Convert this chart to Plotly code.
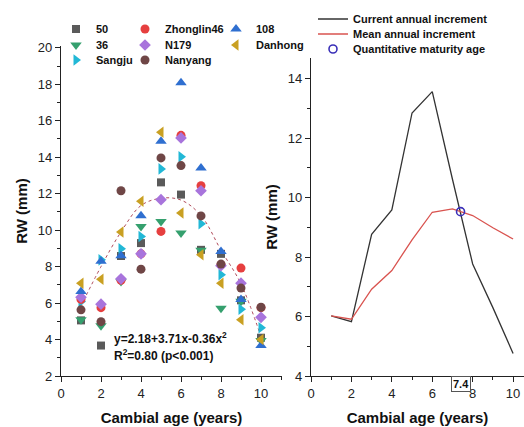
import plotly.graph_objects as go

W, H = 524, 427

# ---------------- data (left panel) ----------------
ages = [1, 2, 3, 4, 5, 6, 7, 8, 9, 10]
rw_50 = [5.05, 3.67, 8.58, 9.29, 12.62, 11.95, 8.92, 8.70, 6.15, 4.10]
rw_36 = [5.08, 4.76, 7.18, 10.20, 10.48, 9.84, 8.90, 5.72, 6.10, 3.95]
rw_sangju = [6.08, 8.37, 8.98, 9.65, 13.36, 14.02, 10.35, 7.55, 5.66, 4.65]
rw_zhonglin46 = [6.20, 5.75, 7.25, 8.70, 9.93, 15.20, 12.44, 8.10, 7.92, 5.75]
rw_n179 = [6.32, 5.94, 7.33, 8.70, 11.67, 15.06, 12.16, 8.05, 7.09, 5.22]
rw_nanyang = [5.63, 4.98, 12.16, 7.86, 13.96, 13.54, 10.78, 8.14, 6.82, 5.77]
rw_108 = [6.63, 8.30, 8.59, 10.79, 14.87, 18.08, 13.41, 8.83, 6.20, 3.67]
rw_danhong = [7.09, 7.31, 9.90, 11.58, 15.37, 10.94, 8.65, 7.09, 5.08, 4.00]

# fitted curve
fit_x = [1, 2, 3, 4, 5, 6, 7, 8, 9, 10]
fit_y = [5.85, 8.00, 9.90, 11.35, 11.75, 11.65, 10.80, 8.90, 7.05, 4.15]
eq_text = "y=2.18+3.71x-0.36x<sup>2</sup>"
r2_text = "R<sup>2</sup>=0.80 (p<0.001)"

# ---------------- data (right panel) ----------------
cai = [6.02, 5.83, 8.77, 9.59, 12.85, 13.57, 10.62, 7.77, 6.30, 4.76]
mai = [6.02, 5.91, 6.92, 7.55, 8.58, 9.51, 9.62, 9.40, 8.99, 8.61]
maturity_x = [7.4]
maturity_y = [9.53]

series = [
    ("50", rw_50, "square", "#5a5a5a"),
    ("36", rw_36, "triangle-down", "#35a06e"),
    ("Sangju", rw_sangju, "triangle-right", "#22b8d6"),
    ("Zhonglin46", rw_zhonglin46, "circle", "#e63f3f"),
    ("N179", rw_n179, "diamond", "#a874dc"),
    ("Nanyang", rw_nanyang, "circle", "#6f4646"),
    ("108", rw_108, "triangle-up", "#2f6fd0"),
    ("Danhong", rw_danhong, "triangle-left", "#c9a022"),
]

# legend item positions (pixel) for each series: (marker x, row y)
leg_pos = [(77, 30), (77, 46), (77, 61), (146, 30), (146, 46), (146, 61), (237, 30), (237, 46)]

FONT = "Liberation Sans, Arial, sans-serif"

def px(x):
    return x / W

def py(y):
    return 1 - y / H

fig = go.Figure()

fig.add_trace(go.Scatter(x=fit_x, y=fit_y, mode="lines", line=dict(color="#b04a5a", width=1, dash="dot", shape="spline"),
                         showlegend=False, hoverinfo="skip", xaxis="x", yaxis="y"))

LEG_DY = -1
layout_legends = {}
for i, (name, vals, sym, col) in enumerate(series):
    lname = "legend" if i == 0 else f"legend{i + 1}"
    size = 9
    if sym in ("square",):
        size = 8
    if sym.startswith("triangle"):
        size = 10
    fig.add_trace(go.Scatter(x=ages, y=vals, mode="markers", name=name,
                             marker=dict(symbol=sym, color=col, size=size, line=dict(width=0)),
                             legend=lname, xaxis="x", yaxis="y"))
    mx, my = leg_pos[i]
    layout_legends[lname] = dict(x=px(mx - 21), y=py(my + LEG_DY), xanchor="left", yanchor="middle",
                                 bgcolor="rgba(0,0,0,0)", borderwidth=0,
                                 font=dict(family=FONT, size=11, color="#111", weight="bold"))

# right panel
right_items = [
    ("Current annual increment", cai, "#333333"),
    ("Mean annual increment", mai, "#d9534f"),
]
right_rows = [20, 35]
RX = 313
n0 = len(series)
for j, (name, vals, col) in enumerate(right_items):
    lname = f"legend{n0 + j + 1}"
    fig.add_trace(go.Scatter(x=ages, y=vals, mode="lines", name=name, line=dict(color=col, width=1.3),
                             legend=lname, xaxis="x2", yaxis="y2"))
    layout_legends[lname] = dict(x=px(RX), y=py(right_rows[j] + LEG_DY), xanchor="left", yanchor="middle",
                                 bgcolor="rgba(0,0,0,0)", borderwidth=0,
                                 font=dict(family=FONT, size=11, color="#111", weight="bold"))
lname = f"legend{n0 + 3}"
fig.add_trace(go.Scatter(x=maturity_x, y=maturity_y, mode="markers", name="Quantitative maturity age",
                         marker=dict(symbol="circle-open", color="#3a30b8", size=8, line=dict(width=1.6)),
                         legend=lname, xaxis="x2", yaxis="y2"))
layout_legends[lname] = dict(x=px(RX), y=py(50 + LEG_DY), xanchor="left", yanchor="middle",
                             bgcolor="rgba(0,0,0,0)", borderwidth=0,
                             font=dict(family=FONT, size=11, color="#111", weight="bold"))

axis_common = dict(showline=True, linecolor="#222", linewidth=1.2, ticks="outside", ticklen=5, tickwidth=1.1,
                   tickcolor="#222", showgrid=False, zeroline=False, automargin=False,
                   tickfont=dict(family=FONT, size=13, color="#222"),
                   minor=dict(ticks="outside", ticklen=3, tickwidth=1, tickcolor="#222", dtick=1))

title_font = dict(family=FONT, size=15, color="#111", weight="bold")

fig.update_layout(
    width=W, height=H, margin=dict(l=0, r=0, t=0, b=0, autoexpand=False),
    paper_bgcolor="white", plot_bgcolor="white",
    font=dict(family=FONT),
    xaxis=dict(domain=[px(61), px(282)], range=[0, 11.05], dtick=2, tick0=0, anchor="y",
               title=dict(text="Cambial age (years)", font=title_font, standoff=12), **axis_common),
    yaxis=dict(domain=[py(376), py(46)], range=[2, 20.1], dtick=2, tick0=0, anchor="x",
               title=dict(text="RW (mm)", font=title_font, standoff=6), **axis_common),
    xaxis2=dict(domain=[px(311), 1.0], range=[0, 10.54], dtick=2, tick0=0, anchor="y2",
                title=dict(text="Cambial age (years)", font=title_font, standoff=12), **axis_common),
    yaxis2=dict(domain=[py(376), py(58)], range=[4, 14.7], dtick=2, tick0=0, anchor="x2",
                title=dict(text="RW (mm)", font=title_font, standoff=6), **axis_common),
    annotations=[
        dict(text=f"<b>{eq_text}</b>", x=px(112), y=py(338), xref="paper", yref="paper", xanchor="left",
             yanchor="middle", showarrow=False, font=dict(family=FONT, size=12, color="#111")),
        dict(text=f"<b>{r2_text}</b>", x=px(112), y=py(355), xref="paper", yref="paper", xanchor="left",
             yanchor="middle", showarrow=False, font=dict(family=FONT, size=12, color="#111")),
        dict(text="<b>7.4</b>", x=maturity_x[0], y=py(376), xref="x2", yref="paper", xanchor="center",
             yanchor="top", showarrow=False, bordercolor="#555", borderwidth=1, borderpad=1,
             bgcolor="white", font=dict(family=FONT, size=11, color="#111")),
    ],
    **layout_legends,
)

fig.write_html("out.html")
